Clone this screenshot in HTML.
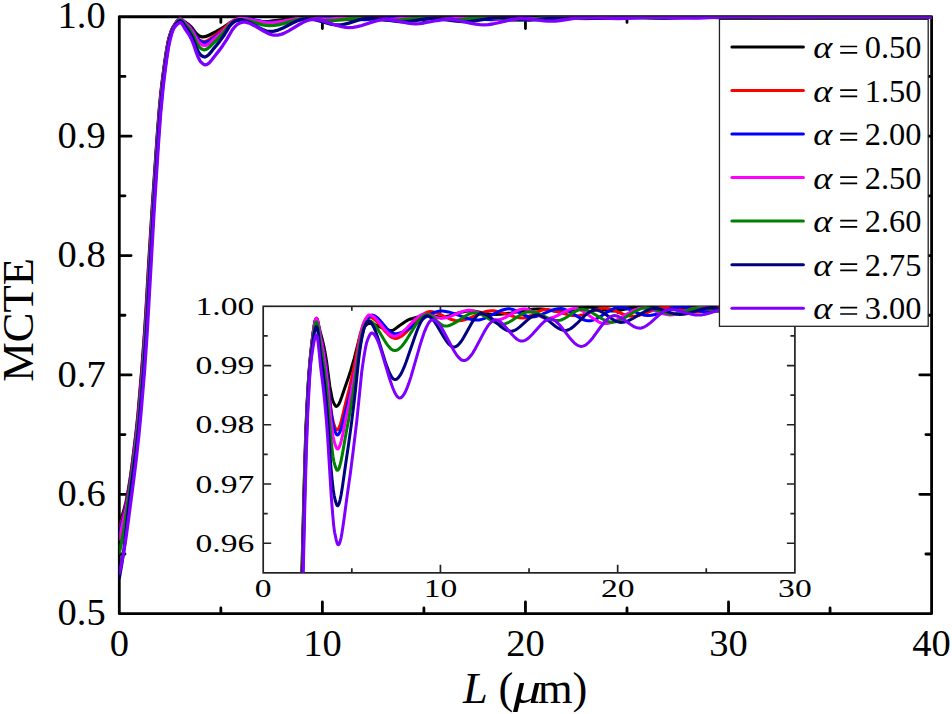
<!DOCTYPE html>
<html><head><meta charset="utf-8"><style>
html,body{margin:0;padding:0;background:#fff;}
body{width:952px;height:714px;overflow:hidden;font-family:"Liberation Serif",serif;}
svg{display:block;}
</style></head><body>
<svg width="952" height="714" viewBox="0 0 952 714">
<defs><clipPath id="cm"><rect x="119.30" y="16.75" width="812.30" height="596.95"/></clipPath>
<clipPath id="ci"><rect x="263.20" y="306.30" width="531.70" height="266.55"/></clipPath></defs>
<rect width="952" height="714" fill="#fff"/>
<g stroke="#000" stroke-width="2.8" fill="none" stroke-linecap="round">
<rect x="119.30" y="16.75" width="812.30" height="596.95" stroke-linejoin="round"/>
<path d="M220.84 612.30V608.00M220.84 18.15V22.45M322.38 612.30V601.90M322.38 18.15V28.55M423.91 612.30V608.00M423.91 18.15V22.45M525.45 612.30V601.90M525.45 18.15V28.55M626.99 612.30V608.00M626.99 18.15V22.45M728.53 612.30V601.90M728.53 18.15V28.55M830.06 612.30V608.00M830.06 18.15V22.45M120.70 554.00H125.00M930.20 554.00H925.90M120.70 494.31H131.10M930.20 494.31H919.80M120.70 434.62H125.00M930.20 434.62H925.90M120.70 374.92H131.10M930.20 374.92H919.80M120.70 315.23H125.00M930.20 315.23H925.90M120.70 255.53H131.10M930.20 255.53H919.80M120.70 195.83H125.00M930.20 195.83H925.90M120.70 136.14H131.10M930.20 136.14H919.80M120.70 76.45H125.00M930.20 76.45H925.90"/>
</g>
<g clip-path="url(#cm)" fill="none" stroke-width="3.30" stroke-linejoin="round" stroke-linecap="round">
<path stroke="#000000" d="M119.3 522.4L120.1 521.0L121.3 518.3L122.5 514.8L123.8 510.8L126.2 501.4L128.2 490.9L130.3 478.1L132.7 460.1L136.4 429.8L138.0 414.3L141.6 372.1L144.5 333.8L146.1 308.8L148.9 260.6L152.2 208.4L157.1 137.3L159.5 107.0L161.1 90.7L162.4 79.9L164.4 64.7L166.4 51.2L168.0 42.2L169.3 37.0L170.9 32.0L172.5 28.2L176.2 22.4L177.4 20.9L178.6 19.8L179.4 19.4L180.2 19.2L181.0 19.4L182.3 20.0L184.7 22.0L187.9 24.1L190.4 26.2L192.4 28.4L195.7 32.9L198.1 35.2L198.9 35.7L200.5 36.4L201.7 36.8L203.0 36.9L205.0 36.7L207.4 35.9L216.4 31.4L223.7 27.2L229.4 23.3L231.8 22.1L233.4 21.4L235.1 20.9L238.3 20.4L240.3 20.2L246.8 20.4L261.0 21.5L266.7 21.6L269.6 21.4L275.3 20.7L285.8 19.5L296.0 18.9L304.9 18.6L311.4 18.6L320.8 18.9L325.6 18.9L332.5 18.7L348.4 17.9L355.7 17.7L363.0 17.8L380.0 18.3L389.4 18.4L423.9 17.4L434.5 17.3L440.2 17.3L454.8 17.8L461.3 17.8L491.7 16.9L497.8 17.0L512.5 17.6L519.0 17.7L550.6 16.9L580.3 17.2L618.1 16.9L695.6 16.8L725.3 16.9L757.4 17.3L791.1 16.9L826.8 17.1L858.9 16.9L931.6 16.9"/>
<path stroke="#ff0000" d="M119.3 527.7L120.5 524.8L121.7 521.1L124.2 512.2L126.6 501.4L128.6 490.4L131.1 474.4L133.5 456.2L136.8 428.9L138.4 413.1L142.0 370.5L144.9 331.7L152.2 211.7L157.1 139.8L159.5 108.9L160.7 96.2L162.4 81.3L164.0 68.7L166.4 52.1L168.0 42.9L169.3 37.6L171.3 31.3L172.9 27.7L174.9 24.4L176.6 22.0L177.8 20.5L179.0 19.6L180.2 19.2L180.6 19.3L181.4 19.6L182.7 20.6L184.7 22.6L187.9 25.2L190.0 27.2L192.0 29.7L196.1 36.3L198.5 39.2L199.7 40.2L200.9 40.9L202.6 41.5L203.8 41.7L204.6 41.6L205.8 41.4L207.8 40.4L209.9 39.1L216.8 34.2L219.6 32.1L223.3 29.1L224.9 27.6L229.0 23.6L230.2 22.6L231.8 21.5L233.4 20.6L235.1 19.9L237.9 19.2L239.9 18.9L243.2 19.0L246.8 19.4L250.9 20.1L263.1 22.5L267.1 23.0L270.8 23.2L274.9 23.1L279.3 22.6L284.6 21.7L300.4 18.7L305.7 18.0L310.2 17.8L317.1 18.0L335.0 19.4L343.1 19.7L351.2 19.4L370.7 18.0L380.0 17.6L388.2 17.8L408.1 18.9L417.0 19.1L422.7 18.9L435.3 17.7L441.0 17.4L449.1 17.5L469.4 18.5L478.3 18.7L484.8 18.5L501.9 17.4L509.6 17.1L516.9 17.3L534.4 18.5L542.5 18.8L550.6 18.6L570.1 17.3L579.1 17.0L586.8 17.1L605.5 17.8L614.0 17.9L621.7 17.8L639.6 17.1L647.7 16.9L688.3 17.4L726.5 16.9L764.7 16.9L796.4 17.3L829.7 16.9L865.0 17.1L897.9 16.9L931.6 17.0"/>
<path stroke="#0000ff" d="M119.3 531.0L120.5 527.8L121.7 524.0L124.2 514.8L127.0 501.8L129.0 490.4L131.1 477.1L133.5 458.9L136.8 431.6L138.4 416.2L142.0 374.0L144.9 335.5L146.5 310.4L149.4 261.6L152.6 208.6L157.1 142.3L159.5 110.9L160.7 97.9L162.4 82.6L164.0 69.8L166.4 53.0L168.0 43.6L169.3 38.1L170.9 32.8L172.1 29.7L172.9 28.0L174.9 24.6L176.6 22.1L177.8 20.6L179.0 19.6L180.2 19.2L180.6 19.3L181.4 19.6L182.7 20.6L184.7 22.6L187.9 25.3L190.0 27.4L192.4 30.4L196.1 36.6L198.5 39.7L199.7 40.9L200.5 41.4L202.6 42.3L204.2 42.7L206.2 42.4L208.7 41.4L210.7 40.1L218.4 34.7L221.6 32.3L225.3 29.4L227.3 27.6L231.8 23.3L234.6 21.3L236.7 20.1L238.3 19.5L241.6 18.8L243.6 18.5L246.4 18.6L249.3 18.9L252.9 19.6L263.9 21.8L267.1 22.1L270.4 22.3L275.7 22.1L281.8 21.7L288.7 21.0L309.4 18.5L316.3 17.9L322.4 17.7L331.7 17.9L354.5 19.2L364.6 19.5L372.7 19.2L390.6 17.7L398.3 17.3L405.2 17.4L419.9 18.7L426.3 18.9L434.5 18.6L452.7 17.4L460.5 17.2L468.2 17.6L485.2 19.4L492.6 19.7L500.3 19.3L519.0 17.4L523.4 17.1L527.5 16.9L534.4 17.1L552.3 18.4L560.4 18.6L568.1 18.4L587.2 17.2L596.1 16.9L603.4 17.0L620.9 17.7L629.0 17.9L637.1 17.8L656.2 17.1L664.8 16.9L699.7 17.5L726.9 16.9L764.7 16.9L796.4 17.3L829.7 16.9L865.0 17.1L897.9 16.9L931.6 17.0"/>
<path stroke="#ff00ff" d="M119.3 539.0L126.2 508.4L127.8 499.7L129.5 489.9L131.9 473.4L134.3 454.8L137.2 430.7L138.8 415.0L142.5 372.4L145.3 333.4L146.5 314.6L152.6 212.0L157.5 139.2L159.9 108.2L162.4 84.1L164.0 71.0L166.0 56.7L167.6 46.6L169.3 38.7L170.9 33.2L171.7 31.0L172.9 28.3L176.6 22.2L177.8 20.6L179.0 19.6L180.2 19.1L180.6 19.1L181.4 19.5L182.7 20.5L185.1 23.2L188.3 26.2L190.4 28.6L192.4 31.4L193.6 33.6L196.5 39.1L198.9 42.4L200.1 43.7L201.3 44.4L203.0 45.2L204.6 45.5L205.4 45.4L206.6 45.1L208.7 43.9L210.3 42.7L214.3 39.1L217.6 36.4L220.8 33.4L224.5 29.8L229.8 23.7L232.2 21.6L233.8 20.5L235.5 19.7L238.3 18.8L240.3 18.5L243.2 18.6L246.4 18.9L250.5 19.7L262.3 22.1L265.9 22.6L269.6 22.8L273.2 22.6L277.7 22.1L294.4 19.2L298.0 18.7L301.7 18.4L307.3 18.4L319.5 19.1L325.2 19.2L332.5 18.9L348.0 17.8L354.5 17.6L361.8 17.8L379.2 19.2L387.4 19.5L394.3 19.2L409.7 17.7L416.2 17.3L419.9 17.3L423.5 17.5L438.5 18.9L445.0 19.2L452.7 18.9L470.2 17.4L477.5 17.2L481.2 17.4L485.6 17.7L503.5 19.9L507.6 20.2L511.2 20.2L515.7 20.1L520.6 19.8L543.3 17.6L549.0 17.2L553.9 17.1L560.8 17.2L577.8 18.3L585.6 18.5L592.9 18.3L611.1 17.2L619.3 17.0L628.2 17.1L649.7 17.8L659.9 17.9L668.8 17.8L689.5 17.1L698.9 17.0L727.7 17.3L761.0 16.9L796.4 17.3L829.7 16.9L865.0 17.1L897.9 16.9L931.6 17.0"/>
<path stroke="#008000" d="M119.3 552.8L121.7 541.4L124.2 527.8L131.5 478.8L133.9 461.2L136.0 445.3L138.0 427.5L139.6 411.0L142.9 372.6L145.7 333.2L146.9 314.2L153.0 210.5L157.5 143.1L159.9 111.1L162.4 86.2L164.0 72.7L166.4 55.5L168.0 45.6L169.7 38.0L171.3 32.6L172.9 28.7L174.9 25.2L176.6 22.8L177.8 21.4L179.0 20.3L180.2 19.9L180.6 19.9L181.4 20.3L182.7 21.6L185.1 24.6L188.3 28.1L190.4 30.8L192.4 34.1L196.1 42.0L196.9 43.5L198.9 46.6L200.1 47.9L201.3 48.7L203.0 49.5L204.2 49.8L205.0 49.7L206.2 49.4L208.2 48.1L209.9 46.7L213.9 42.7L216.8 40.0L220.0 36.7L224.1 32.1L229.4 25.1L231.8 22.8L233.4 21.6L234.6 20.9L237.5 20.0L239.5 19.6L242.8 19.8L246.0 20.3L250.1 21.2L259.0 23.8L262.7 24.8L266.3 25.4L270.0 25.7L274.0 25.4L278.1 24.8L283.0 23.6L293.5 20.6L298.0 19.5L302.9 18.7L306.9 18.4L311.4 18.6L322.8 20.4L325.6 20.7L328.1 20.7L335.4 20.4L353.2 18.5L357.7 18.2L361.4 18.1L368.3 18.3L384.9 20.0L389.0 20.3L392.6 20.4L399.9 20.0L415.8 18.3L422.3 17.9L426.3 17.9L430.8 18.0L449.5 19.4L457.6 19.6L464.1 19.2L478.7 17.6L484.4 17.4L491.7 17.6L510.4 19.5L514.9 19.8L519.0 20.0L523.0 19.9L527.5 19.6L547.8 17.6L552.7 17.2L557.1 17.1L564.0 17.2L580.3 18.1L587.6 18.3L594.5 18.2L611.6 17.3L619.3 17.1L627.0 17.2L645.7 17.9L654.2 18.1L661.5 18.0L679.8 17.3L687.9 17.1L722.8 17.7L756.5 16.9L791.9 17.3L825.2 16.9L860.1 17.1L893.8 16.9L931.6 17.0"/>
<path stroke="#000080" d="M119.3 577.9L121.7 564.2L124.2 547.4L129.5 500.4L135.1 457.9L137.2 441.7L139.2 422.9L140.8 405.5L144.1 365.8L146.5 330.8L153.4 212.4L157.5 149.8L159.9 116.3L162.4 90.1L164.0 75.8L166.0 60.9L168.0 47.7L169.7 39.4L171.3 33.7L172.5 30.3L173.3 28.5L176.2 24.2L177.4 22.7L178.6 21.5L179.8 20.9L180.6 20.9L181.4 21.3L182.3 22.2L184.7 25.9L188.3 30.6L190.8 34.6L192.8 38.6L196.5 48.2L198.1 51.3L199.3 53.4L200.5 54.9L202.2 56.1L203.4 56.7L204.6 57.0L205.4 56.8L206.6 56.3L208.7 54.7L210.3 52.9L213.9 48.3L217.2 44.5L220.0 40.9L223.7 35.8L224.9 33.9L229.0 27.1L230.2 25.5L231.4 24.1L233.0 22.5L234.6 21.3L237.5 20.1L239.5 19.7L241.1 19.8L242.8 20.0L246.0 21.0L250.1 22.8L259.0 27.8L262.7 29.6L264.7 30.4L266.7 31.0L268.8 31.4L270.4 31.5L272.0 31.5L274.0 31.2L278.1 30.1L283.0 28.0L293.1 22.8L297.6 20.8L300.0 19.9L302.5 19.2L304.5 18.9L306.5 18.7L309.8 18.8L313.4 19.4L317.5 20.4L326.4 23.0L330.1 24.0L334.2 24.7L337.8 25.0L341.1 24.8L344.7 24.2L348.8 23.1L357.3 20.4L361.0 19.4L365.0 18.5L368.7 18.2L372.3 18.3L376.0 18.6L380.9 19.2L394.7 21.2L399.1 21.7L403.2 21.8L406.4 21.7L409.7 21.4L425.5 19.0L429.2 18.7L432.8 18.5L436.5 18.6L441.0 19.0L454.4 20.8L459.2 21.4L463.3 21.6L467.4 21.6L471.0 21.3L474.7 20.9L491.7 18.1L495.8 17.6L499.5 17.5L506.0 17.8L522.2 19.6L525.9 19.9L529.5 20.0L537.6 19.7L558.3 17.6L563.2 17.3L567.7 17.2L574.2 17.3L589.6 18.2L596.9 18.4L604.2 18.3L622.5 17.3L630.6 17.1L638.4 17.2L657.0 17.9L665.6 18.0L672.9 17.9L691.2 17.2L699.3 17.1L727.7 17.7L761.0 16.9L796.4 17.3L829.7 16.9L865.0 17.1L897.9 16.9L931.6 17.0"/>
<path stroke="#8000ff" d="M119.3 573.1L121.3 564.3L123.8 551.6L125.8 539.0L127.8 524.6L133.1 484.2L136.0 461.2L138.8 435.7L141.2 410.7L144.5 371.4L147.3 330.4L154.2 209.4L158.3 146.0L160.7 112.8L163.2 87.0L164.8 73.2L166.8 58.4L168.4 48.0L170.1 39.6L172.1 32.4L172.9 30.2L173.7 28.5L174.5 27.2L176.2 25.3L178.2 23.4L179.4 22.8L180.6 22.6L181.4 23.1L182.3 24.1L185.1 29.0L188.8 34.2L191.2 38.7L192.8 42.3L193.6 44.4L196.9 54.2L198.1 57.0L199.7 60.3L200.9 62.1L202.6 63.5L204.2 64.6L205.4 64.8L206.2 64.7L207.4 64.2L208.7 63.3L209.9 62.1L211.5 60.2L215.6 54.9L219.2 50.4L222.5 45.9L226.5 39.9L232.2 30.0L234.6 27.0L236.3 25.3L237.9 24.0L241.1 22.6L243.2 22.1L244.8 22.2L246.4 22.4L248.0 22.8L250.1 23.5L254.5 25.7L263.5 31.0L267.5 33.1L270.0 34.1L272.0 34.8L274.0 35.1L275.7 35.2L277.7 35.1L279.7 34.7L281.8 34.1L283.8 33.4L288.7 30.9L299.2 24.5L303.7 22.1L306.1 21.0L308.6 20.2L311.0 19.7L313.0 19.5L316.7 19.7L320.8 20.4L325.6 21.7L336.2 25.2L340.7 26.5L345.5 27.4L349.6 27.7L353.2 27.4L357.3 26.7L361.8 25.5L371.9 22.1L376.4 20.8L380.9 19.9L384.9 19.5L388.2 19.6L391.8 20.0L395.9 20.7L408.1 23.1L412.1 23.6L415.8 23.8L419.4 23.6L423.9 23.0L437.3 20.5L441.8 19.8L446.3 19.4L450.3 19.4L454.0 19.7L458.0 20.3L471.4 23.3L475.9 24.1L480.0 24.7L484.0 24.8L488.1 24.6L492.6 24.0L497.4 23.0L510.8 19.8L514.9 19.1L518.5 18.7L522.2 18.6L526.3 18.8L530.7 19.2L544.1 20.8L548.2 21.1L551.8 21.1L555.5 21.0L560.0 20.5L577.4 17.9L581.1 17.6L584.3 17.4L592.1 17.5L609.9 18.4L618.1 18.5L625.4 18.4L643.2 17.4L651.4 17.2L659.1 17.3L677.8 18.0L686.3 18.1L696.0 18.0L720.4 17.2L749.6 16.9L762.6 17.0L791.9 17.3L825.2 16.9L860.1 17.1L893.8 16.9L931.6 17.0"/>
</g>
<g font-family="Liberation Serif" font-size="38.5" fill="#000">
<text x="105.7" y="625.40" text-anchor="end">0.5</text>
<text x="105.7" y="506.01" text-anchor="end">0.6</text>
<text x="105.7" y="386.62" text-anchor="end">0.7</text>
<text x="105.7" y="267.23" text-anchor="end">0.8</text>
<text x="105.7" y="147.84" text-anchor="end">0.9</text>
<text x="105.7" y="28.45" text-anchor="end">1.0</text>
<text x="119.30" y="655.8" text-anchor="middle">0</text>
<text x="322.38" y="655.8" text-anchor="middle">10</text>
<text x="525.45" y="655.8" text-anchor="middle">20</text>
<text x="728.53" y="655.8" text-anchor="middle">30</text>
<text x="931.60" y="655.8" text-anchor="middle">40</text>
</g>
<text x="32.8" y="320" transform="rotate(-90 32.8 320)" font-family="Liberation Serif" font-size="44.5" text-anchor="middle">MCTE</text>
<g font-family="Liberation Serif" font-size="44.5">
<text x="462.9" y="702.6" font-style="italic">L</text>
<text x="498.4" y="702.6">(</text>
<text x="0" y="0" font-style="italic" transform="translate(513.1 702.6) scale(1.27 1)">μ</text>
<text x="537.9" y="702.6">m)</text>
</g>
<g stroke="#222" stroke-width="1.7" fill="none">
<rect x="263.20" y="306.30" width="531.70" height="266.55"/>
<path d="M351.82 572.85V568.35M351.82 306.30V310.80M440.43 572.85V564.85M440.43 306.30V314.30M529.05 572.85V568.35M529.05 306.30V310.80M617.67 572.85V564.85M617.67 306.30V314.30M706.28 572.85V568.35M706.28 306.30V310.80M263.20 543.23H271.20M794.90 543.23H786.90M263.20 513.62H267.70M794.90 513.62H790.40M263.20 484.00H271.20M794.90 484.00H786.90M263.20 454.38H267.70M794.90 454.38H790.40M263.20 424.77H271.20M794.90 424.77H786.90M263.20 395.15H267.70M794.90 395.15H790.40M263.20 365.53H271.20M794.90 365.53H786.90M263.20 335.92H267.70M794.90 335.92H790.40"/>
</g>
<g clip-path="url(#ci)" fill="none" stroke-width="3.00" stroke-linejoin="round" stroke-linecap="round">
<path stroke="#000000" d="M289.8 1450.9L292.8 1180.2L296.7 863.8L298.8 722.5L300.1 654.6L301.3 595.4L303.1 523.1L304.5 470.9L305.7 432.4L307.0 403.5L308.6 376.5L310.0 359.6L311.9 341.7L313.4 330.4L314.6 323.0L315.1 320.8L315.7 319.3L316.2 318.6L316.5 318.5L317.1 319.2L317.6 320.7L320.1 331.4L322.6 340.7L324.0 346.9L325.4 354.3L326.6 361.8L329.8 386.2L331.3 394.1L332.1 398.4L333.0 401.4L334.4 404.4L335.5 406.0L336.0 406.4L336.4 406.4L337.3 406.0L338.2 405.0L339.1 403.6L340.1 401.3L341.7 397.0L345.1 386.9L348.1 378.4L350.8 370.2L354.1 358.9L358.9 340.0L359.8 337.0L361.2 333.2L362.8 329.4L364.0 327.3L366.5 324.7L367.6 323.9L368.5 323.6L369.4 323.5L370.8 323.6L373.4 324.2L376.6 325.4L383.2 328.3L386.0 329.5L389.2 330.3L391.9 330.5L393.1 330.2L394.5 329.4L399.3 325.7L405.5 321.5L407.8 320.1L409.9 319.2L417.9 316.9L421.3 316.1L424.3 315.6L427.1 315.3L430.0 315.2L432.5 315.4L437.2 316.6L439.2 316.9L441.1 317.0L443.6 316.8L446.5 316.4L449.5 315.7L459.2 312.8L462.8 311.9L466.1 311.3L469.1 311.0L471.8 311.1L474.8 311.3L478.4 311.9L489.0 314.0L492.4 314.4L495.6 314.5L500.3 314.3L505.5 313.7L511.1 312.9L527.5 310.0L532.6 309.3L537.2 309.0L540.7 308.9L543.8 309.2L547.0 309.7L554.0 311.1L557.2 311.5L559.9 311.7L562.7 311.6L565.6 311.3L568.6 310.8L582.0 307.9L585.4 307.4L588.4 307.2L590.9 307.3L593.7 307.6L596.9 308.2L606.1 310.4L609.2 310.8L611.8 311.0L614.8 310.9L618.0 310.5L621.7 309.9L632.7 307.7L636.3 307.2L639.5 307.0L645.3 307.2L658.4 308.2L664.5 308.5L673.3 308.3L690.2 307.2L697.1 306.9L732.0 306.6L761.2 306.6L773.1 306.7L792.1 307.3L803.8 308.1"/>
<path stroke="#ff0000" d="M289.8 1469.2L293.0 1180.1L296.9 862.2L299.0 720.7L300.2 652.8L301.5 593.7L303.3 521.4L304.7 469.3L305.9 431.1L307.2 402.5L308.6 378.3L310.0 360.8L311.9 342.5L313.4 330.9L314.6 323.2L315.1 320.9L315.7 319.3L316.2 318.6L316.5 318.5L316.7 318.7L317.3 319.9L317.8 321.8L320.3 335.2L322.8 346.4L324.3 355.0L325.8 364.1L327.0 373.3L330.4 404.8L331.8 414.5L332.7 419.7L333.6 423.4L335.0 427.3L336.0 429.3L336.6 429.9L337.1 430.0L337.8 429.6L338.7 428.4L339.6 426.4L340.7 423.3L342.2 417.4L345.6 403.2L348.6 391.4L351.3 379.8L354.7 363.9L359.3 338.4L360.1 334.5L361.4 329.9L363.0 324.7L364.2 321.9L366.7 318.4L367.6 317.5L368.5 317.1L369.7 317.1L371.1 317.4L372.7 318.2L374.3 319.3L376.1 320.9L377.9 322.7L385.5 331.7L388.9 335.1L390.6 336.6L392.4 337.6L394.0 338.2L395.6 338.4L397.4 338.2L399.1 337.5L401.1 336.5L403.0 335.1L405.2 333.2L407.5 330.9L417.0 320.1L421.1 316.1L423.4 314.2L425.5 312.9L427.5 312.0L429.4 311.6L430.9 311.6L432.5 311.8L435.8 312.6L439.5 314.0L447.9 318.0L451.4 319.5L455.1 320.5L456.9 320.7L458.5 320.8L461.9 320.5L465.4 319.6L469.7 318.0L478.9 313.9L482.8 312.4L486.9 311.2L488.8 310.9L490.6 310.7L494.0 310.8L497.7 311.5L501.9 312.6L511.1 315.7L515.0 316.9L519.1 317.7L522.8 318.0L525.2 317.7L527.6 317.0L530.6 315.7L536.8 312.3L539.5 311.0L542.3 310.0L545.0 309.6L548.2 309.7L551.6 310.3L555.8 311.3L564.7 313.9L568.6 314.9L572.6 315.6L576.4 315.8L579.6 315.5L583.3 314.6L586.7 313.4L594.8 310.2L598.7 309.0L602.4 308.3L605.8 308.3L608.8 308.7L612.2 309.7L615.4 310.9L622.6 314.0L626.4 315.3L629.7 316.1L632.7 316.3L636.1 316.0L639.8 315.2L643.9 313.8L652.8 310.3L656.5 309.0L660.4 308.0L663.9 307.5L667.3 307.6L671.0 308.0L675.1 308.7L687.7 311.3L691.6 311.8L695.1 312.0L698.3 311.8L701.9 311.4L705.6 310.6L716.7 308.1L720.3 307.5L723.5 307.2L727.2 307.2L731.8 307.4L751.5 309.2L756.1 309.4L760.2 309.5L764.1 309.4L768.3 309.1L783.2 307.6L788.9 307.2L793.3 307.0L803.8 307.0"/>
<path stroke="#0000ff" d="M289.8 1487.7L293.2 1180.1L296.9 874.0L299.0 729.4L300.2 660.2L301.5 599.9L304.7 473.8L305.9 434.6L307.2 405.0L308.7 377.6L310.2 360.3L312.1 341.8L313.4 331.4L314.6 323.4L315.1 321.0L315.7 319.4L316.2 318.6L316.5 318.5L316.7 318.7L317.3 319.9L317.8 321.8L320.3 335.5L322.9 348.0L324.3 355.7L325.8 364.9L327.2 375.5L330.5 408.0L332.0 418.0L333.0 424.4L333.9 428.2L335.3 432.1L336.4 434.2L336.9 434.8L337.5 435.0L337.8 434.9L338.3 434.5L339.2 433.3L340.3 431.0L341.4 427.9L343.0 422.1L346.7 406.8L349.9 394.6L352.9 381.8L356.6 364.6L361.6 337.7L362.5 333.9L363.9 328.7L365.5 323.6L366.9 320.3L368.3 318.2L369.5 316.6L370.6 315.6L371.5 315.2L372.6 315.1L373.8 315.4L375.0 316.0L376.5 317.0L378.0 318.4L379.6 320.0L386.4 328.0L389.2 331.0L390.8 332.2L392.2 333.1L393.6 333.6L395.1 333.7L397.4 333.5L399.8 332.9L402.3 332.1L405.0 330.9L407.8 329.3L411.0 327.3L423.8 318.2L429.3 314.8L432.3 313.2L435.1 312.1L437.8 311.4L440.3 311.0L442.0 311.0L444.2 311.2L448.4 311.9L453.4 313.4L463.8 317.2L468.4 318.7L473.2 319.7L475.3 319.9L477.5 320.0L479.1 319.9L480.8 319.6L484.6 318.4L488.5 316.7L496.4 312.6L499.8 311.0L503.4 309.7L506.5 309.0L508.3 308.8L509.7 308.8L511.1 309.1L512.7 309.5L516.1 310.9L522.8 314.5L525.7 315.8L528.5 316.7L531.2 317.0L534.5 316.7L538.3 315.7L541.8 314.4L550.1 310.9L554.2 309.5L557.8 308.8L561.0 308.6L562.5 308.8L564.1 309.2L567.7 310.7L571.1 312.5L579.0 317.4L582.8 319.3L584.5 320.0L586.1 320.5L587.7 320.7L589.1 320.8L590.7 320.7L592.3 320.4L595.7 319.2L599.8 317.0L608.1 311.6L611.8 309.5L613.8 308.6L615.7 307.9L617.5 307.4L619.1 307.2L622.1 307.4L625.5 308.1L629.4 309.4L637.5 313.0L641.1 314.3L644.8 315.3L648.0 315.6L651.3 315.3L655.1 314.5L659.1 313.2L667.8 309.8L671.5 308.5L675.4 307.5L678.8 307.0L682.0 307.1L685.5 307.5L689.4 308.3L701.1 311.2L704.9 311.8L708.1 312.0L711.4 311.8L715.3 311.3L719.4 310.5L731.1 307.9L734.8 307.4L738.2 307.0L741.7 307.0L745.8 307.3L762.6 309.5L766.5 309.9L770.1 310.0L772.7 309.9L775.8 309.6L786.4 307.7L790.6 307.2L793.7 307.0L803.8 307.0"/>
<path stroke="#ff00ff" d="M289.8 1506.4L293.2 1195.5L296.9 886.0L299.0 738.2L300.2 667.7L301.5 606.2L304.7 478.4L305.9 438.3L307.2 407.5L308.6 382.2L310.2 361.6L312.3 341.0L313.5 330.6L314.8 322.6L315.3 320.3L315.8 318.7L316.4 318.0L316.7 318.1L317.3 319.2L317.8 321.3L318.5 325.1L320.4 337.5L323.1 351.4L324.7 361.3L326.1 371.8L327.4 382.4L330.7 418.7L332.1 429.9L333.2 437.1L334.1 441.3L335.5 445.7L336.6 448.1L337.1 448.8L337.6 449.0L338.3 448.6L339.2 447.2L340.1 444.9L341.2 441.1L342.8 434.1L346.1 417.2L349.0 403.9L351.8 389.1L355.2 370.1L359.6 340.6L360.5 335.9L361.7 330.3L363.3 324.1L364.6 320.7L366.0 318.2L367.1 316.6L367.9 315.6L368.8 315.1L370.1 315.1L371.5 315.5L372.9 316.3L374.3 317.3L375.9 318.8L377.7 320.7L384.8 329.5L388.0 333.0L389.6 334.3L391.2 335.4L392.8 336.0L394.2 336.2L395.8 336.0L397.5 335.4L399.3 334.5L401.3 333.2L403.0 331.7L405.2 329.7L412.8 321.7L416.0 318.6L419.2 316.1L420.8 315.1L422.2 314.5L423.4 314.2L424.5 314.0L425.7 314.0L427.1 314.2L430.0 315.0L435.6 317.2L438.1 317.9L440.6 318.4L442.9 318.3L445.9 317.8L449.1 316.9L452.3 315.7L459.4 312.7L462.8 311.4L465.6 310.7L468.3 310.3L469.9 310.3L471.4 310.5L474.8 311.3L478.7 312.9L486.7 317.0L490.2 318.5L492.2 319.2L494.0 319.7L495.6 319.9L497.1 320.0L500.0 319.6L503.2 318.5L506.7 316.8L513.6 312.6L516.6 311.0L519.7 309.7L522.5 309.0L524.1 308.9L525.5 309.0L526.9 309.3L528.5 309.8L531.9 311.3L538.8 315.4L541.8 317.0L544.8 318.1L546.2 318.3L547.7 318.4L549.3 318.3L550.8 318.0L554.4 316.8L557.8 315.3L565.6 311.2L569.3 309.6L572.6 308.8L574.2 308.6L575.8 308.7L577.4 308.9L579.2 309.5L581.0 310.2L582.9 311.3L586.5 313.6L594.4 319.3L598.5 321.8L600.3 322.6L602.1 323.2L603.7 323.5L605.3 323.6L607.2 323.5L609.2 323.1L611.3 322.5L613.4 321.7L618.4 319.2L628.7 313.0L633.1 310.6L635.4 309.6L637.7 308.8L639.8 308.2L641.9 307.9L645.1 308.0L648.5 308.6L652.2 309.8L659.8 312.7L663.2 313.8L666.8 314.6L670.0 314.9L673.1 314.7L676.5 314.0L680.4 312.8L688.6 309.9L692.1 308.8L695.8 307.9L699.0 307.5L702.7 307.6L707.2 308.0L712.0 308.7L726.1 311.3L730.6 311.8L734.5 312.0L738.4 311.9L742.8 311.4L747.4 310.7L760.2 308.4L764.1 307.8L767.6 307.6L770.8 307.5L774.5 307.6L787.3 308.7L792.1 309.0L797.4 308.9L803.8 308.6"/>
<path stroke="#008000" d="M289.8 1535.6L293.3 1203.4L297.1 890.6L299.0 751.8L300.2 679.4L301.5 616.0L303.1 547.3L304.8 479.1L306.1 438.8L307.3 407.8L308.9 379.5L310.3 361.6L312.3 343.7L313.5 333.8L314.6 327.2L315.1 324.8L315.7 323.1L316.2 322.2L316.5 322.0L316.7 322.1L317.3 323.4L317.8 325.7L318.5 330.1L320.4 344.3L322.9 359.1L324.5 370.3L325.9 382.2L327.2 394.1L330.5 435.5L332.0 448.4L333.0 456.7L333.9 461.6L335.3 466.6L336.4 469.3L336.9 470.1L337.5 470.3L337.8 470.2L338.2 469.8L339.1 468.2L339.9 465.5L341.0 461.2L342.4 454.1L345.8 434.8L348.6 419.7L351.3 404.0L354.7 382.4L359.1 349.0L360.0 343.7L361.2 337.4L362.6 331.1L363.9 327.1L365.3 324.2L366.3 322.3L367.2 321.2L368.1 320.6L369.4 320.6L370.8 321.1L372.2 322.1L373.8 323.7L375.6 325.9L377.3 328.5L385.0 341.2L386.7 343.9L388.3 346.1L390.1 348.1L391.7 349.5L393.3 350.3L394.9 350.6L396.5 350.3L398.3 349.4L400.0 348.0L401.8 346.2L403.7 343.8L406.1 340.5L415.1 325.9L417.2 322.7L419.0 320.3L421.1 317.9L423.1 316.2L425.0 315.0L426.8 314.5L427.7 314.5L428.7 314.7L430.9 315.7L433.3 317.5L438.7 322.5L440.8 324.3L442.0 325.1L443.3 325.7L444.3 326.0L445.4 326.1L446.8 326.0L448.4 325.7L450.0 325.2L451.8 324.5L455.7 322.4L463.8 317.0L467.4 314.9L469.3 314.0L471.1 313.4L472.9 312.9L474.5 312.8L475.9 312.8L477.3 313.0L478.9 313.4L480.5 314.0L484.0 315.8L491.8 320.7L495.2 322.5L497.0 323.3L498.7 323.9L500.3 324.2L501.9 324.3L503.4 324.2L504.8 323.9L508.0 322.7L511.5 320.8L519.1 315.8L522.5 313.8L524.3 313.0L526.0 312.3L527.6 311.9L529.2 311.7L532.2 311.9L535.4 312.6L539.3 314.0L547.7 317.8L551.2 319.2L554.9 320.2L556.7 320.4L558.3 320.5L559.7 320.3L561.1 320.0L564.1 318.7L567.0 317.0L573.9 312.3L577.4 310.4L579.0 309.8L580.6 309.4L582.0 309.3L583.6 309.4L585.2 309.7L586.8 310.2L590.4 311.7L593.7 313.7L601.4 318.4L605.3 320.5L607.0 321.2L608.8 321.8L610.6 322.1L612.2 322.2L613.9 322.1L615.7 321.7L617.5 321.2L619.4 320.5L623.9 318.2L633.1 312.5L637.2 310.3L639.3 309.4L641.4 308.6L643.4 308.1L645.1 307.9L648.0 308.0L651.2 308.5L654.9 309.6L662.3 312.1L665.5 313.1L668.9 313.8L671.9 314.0L674.9 313.8L678.1 313.3L681.8 312.3L692.6 309.0L696.2 308.3L699.2 308.0L702.4 308.1L706.1 308.5L710.2 309.3L722.4 312.2L726.3 312.8L729.7 313.0L733.0 312.9L736.6 312.4L740.5 311.6L751.8 308.9L755.2 308.3L758.4 308.0L761.9 308.0L766.2 308.3L781.8 310.4L788.5 311.0L791.7 311.0L795.1 310.7L799.0 310.2L803.8 309.3"/>
<path stroke="#000080" d="M289.8 1586.9L293.5 1227.9L297.1 922.3L299.2 764.3L300.4 689.6L301.7 624.3L302.9 568.6L305.0 484.6L306.3 443.1L307.5 410.7L309.1 381.4L310.5 362.8L312.3 347.3L313.5 337.9L314.6 331.6L315.1 329.3L315.7 327.6L316.2 326.7L316.5 326.6L316.7 326.8L317.3 328.2L317.8 331.0L318.5 336.3L320.4 353.2L323.1 372.3L324.5 384.2L325.9 398.3L327.4 414.7L330.7 464.3L332.1 479.7L333.2 489.5L334.1 495.3L335.5 501.3L336.6 504.6L337.1 505.5L337.6 505.8L338.0 505.6L338.3 505.2L339.2 503.2L340.1 499.8L341.2 494.5L342.6 485.6L346.0 461.7L348.6 444.1L351.3 424.6L354.3 400.6L355.5 389.8L358.9 357.6L359.8 350.7L361.0 342.7L362.5 334.8L363.7 329.6L364.9 326.2L366.2 323.4L367.1 322.0L367.9 321.1L368.5 321.0L369.4 321.2L370.1 321.7L370.8 322.3L372.2 324.2L373.8 327.2L375.6 331.4L377.5 336.8L385.1 361.2L386.9 366.4L388.5 370.6L390.3 374.6L392.0 377.5L392.9 378.5L393.6 379.1L394.5 379.5L395.2 379.6L395.9 379.5L396.8 379.1L398.4 377.7L400.2 375.2L402.0 372.0L403.9 367.7L406.2 361.8L414.9 336.4L417.0 330.7L418.8 326.3L420.9 321.9L422.9 318.8L424.0 317.5L424.8 316.7L425.7 316.2L426.6 315.9L428.0 316.0L429.4 316.6L431.0 317.8L432.6 319.4L434.4 321.7L436.2 324.3L444.0 337.4L447.3 342.3L449.1 344.4L450.9 346.0L452.5 346.8L454.1 347.1L455.5 346.8L456.9 346.0L458.3 344.8L459.9 343.0L461.7 340.6L463.5 337.8L470.9 324.4L474.3 319.0L476.1 316.7L477.8 315.0L479.4 314.0L480.8 313.5L482.4 313.6L484.0 313.9L485.6 314.5L487.4 315.5L489.3 316.7L491.5 318.4L499.8 325.7L503.5 328.5L505.5 329.7L507.4 330.6L509.2 331.1L511.0 331.3L512.2 331.2L513.6 330.8L515.0 330.2L516.5 329.4L519.8 326.9L527.3 320.1L530.5 317.6L532.2 316.4L533.8 315.7L535.4 315.2L536.8 315.0L538.4 315.1L540.2 315.6L542.0 316.3L543.9 317.4L547.5 319.9L555.6 326.5L557.8 327.9L559.7 329.0L561.7 329.9L563.6 330.4L565.4 330.5L567.0 330.2L568.4 329.8L570.0 329.0L571.8 327.9L573.5 326.5L576.7 323.7L584.5 315.9L588.2 312.8L590.0 311.7L591.6 310.8L593.2 310.3L594.8 310.0L596.2 310.0L597.6 310.3L599.1 310.7L600.7 311.4L604.0 313.3L611.5 318.5L614.7 320.5L616.4 321.4L618.0 321.9L619.6 322.3L621.0 322.4L622.8 322.3L624.6 322.0L626.5 321.4L628.5 320.7L632.9 318.5L642.1 313.0L646.0 310.9L648.2 310.0L650.3 309.2L652.2 308.8L654.0 308.5L656.8 308.6L660.0 309.1L663.6 310.1L670.7 312.6L673.8 313.6L677.0 314.3L679.9 314.5L683.1 314.3L686.6 313.7L690.5 312.7L698.7 310.1L702.2 309.1L705.9 308.3L709.1 308.0L712.5 308.1L716.2 308.5L720.3 309.2L732.2 311.7L735.9 312.3L739.2 312.5L742.6 312.4L746.5 312.0L750.4 311.2L761.9 308.8L765.5 308.3L768.7 308.0L771.7 308.0L775.0 308.3L787.1 310.4L791.9 310.9L794.4 311.0L797.2 310.9L803.8 310.1"/>
<path stroke="#8000ff" d="M289.8 1652.4L293.7 1262.2L297.1 962.5L299.4 782.7L301.7 645.7L302.9 586.2L305.0 499.4L306.4 449.6L307.7 415.3L309.3 384.2L310.0 373.1L310.7 364.4L311.6 357.0L313.2 346.4L314.2 340.8L315.3 336.9L316.0 335.6L316.4 335.3L316.5 335.3L316.7 335.5L317.3 337.1L317.8 340.2L318.7 347.6L320.6 366.8L323.1 386.8L324.7 401.8L326.3 419.7L327.7 438.2L331.3 497.1L332.7 514.4L333.7 525.6L334.6 532.3L336.2 539.9L337.3 543.5L337.8 544.5L338.3 544.8L338.7 544.6L339.2 543.9L340.1 541.6L341.2 537.3L342.2 531.4L343.8 520.8L347.2 495.4L350.4 473.0L353.2 450.9L356.8 421.0L361.7 372.0L363.9 356.9L365.5 347.7L366.7 342.4L368.1 338.5L369.4 335.6L370.4 333.9L371.3 333.1L372.0 333.0L372.7 333.3L373.4 333.7L374.3 334.6L375.9 337.0L377.5 340.2L379.3 344.7L381.2 350.5L389.2 377.5L391.2 383.6L392.8 388.0L394.7 392.5L396.5 395.6L397.4 396.7L398.3 397.5L399.1 397.9L399.8 398.0L400.6 397.8L401.4 397.4L402.3 396.6L403.2 395.5L405.0 392.6L406.8 388.7L408.7 383.6L411.0 376.6L420.2 344.7L422.4 337.8L424.1 332.7L426.3 327.4L428.4 323.3L429.4 321.8L430.3 320.9L431.2 320.2L432.1 319.9L432.8 319.8L433.7 319.9L435.5 320.8L437.2 322.2L439.0 324.2L441.0 326.9L443.3 330.7L452.3 347.8L454.4 351.5L456.2 354.3L458.3 357.1L460.5 359.2L461.5 359.9L462.4 360.3L463.3 360.5L464.2 360.6L465.8 360.2L467.4 359.3L469.1 357.7L470.9 355.6L472.9 352.8L475.0 349.2L483.7 332.9L485.6 329.5L487.4 326.7L489.3 324.0L491.3 322.0L493.1 320.7L494.0 320.3L494.8 320.1L496.3 320.1L497.7 320.4L499.3 321.2L500.9 322.3L502.6 323.8L504.4 325.6L512.0 334.5L515.2 337.8L517.0 339.2L518.8 340.3L520.4 340.9L521.8 341.1L523.4 340.9L525.2 340.3L526.9 339.2L528.9 337.7L532.4 334.2L540.7 324.9L542.9 322.8L544.8 321.2L546.8 320.0L548.7 319.3L550.5 319.1L552.3 319.4L553.9 320.1L555.5 321.1L557.2 322.6L559.0 324.3L562.4 328.3L570.3 338.6L572.5 341.0L574.2 342.8L576.2 344.4L578.1 345.6L579.9 346.2L581.5 346.4L583.1 346.1L584.9 345.4L586.7 344.2L588.6 342.5L590.5 340.5L592.9 337.7L601.7 325.5L605.4 321.0L607.6 318.9L609.5 317.3L611.3 316.3L613.1 315.7L614.3 315.6L615.9 315.8L617.5 316.2L619.1 316.8L622.6 318.8L630.3 324.3L633.4 326.3L635.2 327.2L637.0 327.8L638.6 328.1L640.0 328.2L641.4 328.0L643.0 327.5L644.6 326.8L646.4 325.8L650.3 322.9L658.4 315.6L662.0 312.7L663.9 311.4L665.7 310.5L667.3 309.9L668.9 309.6L671.9 309.6L675.4 310.0L679.5 311.0L687.9 313.4L691.6 314.3L695.3 314.9L698.7 315.1L701.9 314.9L705.2 314.2L708.9 313.2L719.8 309.8L723.3 308.9L726.3 308.6L729.7 308.5L733.6 308.9L738.0 309.7L750.8 312.3L754.8 312.9L758.6 313.0L762.5 312.8L766.9 312.3L781.4 309.6L786.7 308.8L789.9 308.5L803.8 307.7"/>
</g>
<g font-family="Liberation Serif" font-size="24.7" fill="#000">
<text transform="translate(254.3 314.80) scale(1.360 1)" text-anchor="end">1.00</text>
<text transform="translate(254.3 374.03) scale(1.360 1)" text-anchor="end">0.99</text>
<text transform="translate(254.3 433.27) scale(1.360 1)" text-anchor="end">0.98</text>
<text transform="translate(254.3 492.50) scale(1.360 1)" text-anchor="end">0.97</text>
<text transform="translate(254.3 551.73) scale(1.360 1)" text-anchor="end">0.96</text>
<text transform="translate(263.20 597.3) scale(1.360 1)" text-anchor="middle">0</text>
<text transform="translate(440.43 597.3) scale(1.360 1)" text-anchor="middle">10</text>
<text transform="translate(617.67 597.3) scale(1.360 1)" text-anchor="middle">20</text>
<text transform="translate(794.90 597.3) scale(1.360 1)" text-anchor="middle">30</text>
</g>
<rect x="719.45" y="19.30" width="208.75" height="307.00" fill="#fff" stroke="#222" stroke-width="1.3"/>
<g font-family="Liberation Serif" font-size="32.4" fill="#000">
<path d="M731.9 47.00H803.4" stroke="#000000" stroke-width="3.0" stroke-linecap="round"/>
<text x="0" y="0" font-style="italic" transform="translate(813.2 58.10) scale(1.12 1)">α</text>
<path d="M840.2 46.50H857.2M840.2 52.80H857.2" stroke="#000" stroke-width="1.7"/>
<text x="866.3" y="58.10" dx="-1.6">0.50</text>
<path d="M731.9 90.53H803.4" stroke="#ff0000" stroke-width="3.0" stroke-linecap="round"/>
<text x="0" y="0" font-style="italic" transform="translate(813.2 101.63) scale(1.12 1)">α</text>
<path d="M840.2 90.03H857.2M840.2 96.33H857.2" stroke="#000" stroke-width="1.7"/>
<text x="866.3" y="101.63" dx="-1.6">1.50</text>
<path d="M731.9 134.06H803.4" stroke="#0000ff" stroke-width="3.0" stroke-linecap="round"/>
<text x="0" y="0" font-style="italic" transform="translate(813.2 145.16) scale(1.12 1)">α</text>
<path d="M840.2 133.56H857.2M840.2 139.86H857.2" stroke="#000" stroke-width="1.7"/>
<text x="866.3" y="145.16" dx="-1.6">2.00</text>
<path d="M731.9 177.59H803.4" stroke="#ff00ff" stroke-width="3.0" stroke-linecap="round"/>
<text x="0" y="0" font-style="italic" transform="translate(813.2 188.69) scale(1.12 1)">α</text>
<path d="M840.2 177.09H857.2M840.2 183.39H857.2" stroke="#000" stroke-width="1.7"/>
<text x="866.3" y="188.69" dx="-1.6">2.50</text>
<path d="M731.9 221.12H803.4" stroke="#008000" stroke-width="3.0" stroke-linecap="round"/>
<text x="0" y="0" font-style="italic" transform="translate(813.2 232.22) scale(1.12 1)">α</text>
<path d="M840.2 220.62H857.2M840.2 226.92H857.2" stroke="#000" stroke-width="1.7"/>
<text x="866.3" y="232.22" dx="-1.6">2.60</text>
<path d="M731.9 264.65H803.4" stroke="#000080" stroke-width="3.0" stroke-linecap="round"/>
<text x="0" y="0" font-style="italic" transform="translate(813.2 275.75) scale(1.12 1)">α</text>
<path d="M840.2 264.15H857.2M840.2 270.45H857.2" stroke="#000" stroke-width="1.7"/>
<text x="866.3" y="275.75" dx="-1.6">2.75</text>
<path d="M731.9 308.18H803.4" stroke="#8000ff" stroke-width="3.0" stroke-linecap="round"/>
<text x="0" y="0" font-style="italic" transform="translate(813.2 319.28) scale(1.12 1)">α</text>
<path d="M840.2 307.68H857.2M840.2 313.98H857.2" stroke="#000" stroke-width="1.7"/>
<text x="866.3" y="319.28" dx="-1.6">3.00</text>
</g>
</svg>
</body></html>
